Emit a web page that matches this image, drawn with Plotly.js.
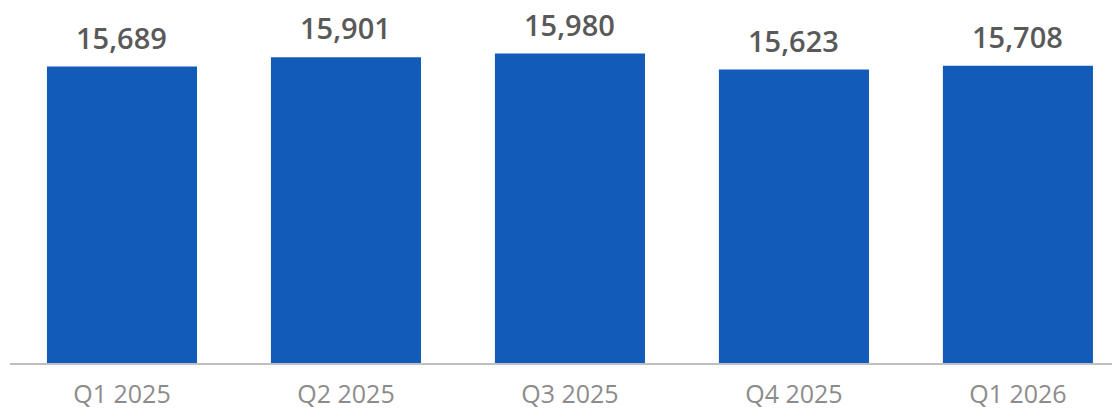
<!DOCTYPE html>
<html>
<head>
<meta charset="utf-8">
<script src="https://cdn.plot.ly/plotly-3.0.1.min.js"></script>
<style>html,body{margin:0;padding:0;background:#fff;}#chart{width:1112px;height:411px;}</style>
</head>
<body>
<div id="chart"></div>
<script>
const categories = ["Q1 2025", "Q2 2025", "Q3 2025", "Q4 2025", "Q1 2026"];
const values = [15689, 15901, 15980, 15623, 15708];
const labels = ["15,689", "15,901", "15,980", "15,623", "15,708"];

const trace = {
  type: "bar",
  x: categories,
  y: values,
  marker: {color: "#125BB8"},
  hoverinfo: "skip"
};

const annotations = categories.map((c, i) => ({
  x: c,
  y: values[i],
  xref: "x",
  yref: "y",
  text: labels[i],
  showarrow: false,
  yanchor: "bottom",
  yshift: 8,
  font: {family: "Open Sans", size: 29, color: "#595959", weight: 600}
}));

const layout = {
  width: 1112,
  height: 411,
  margin: {l: 10, r: 0, t: 0, b: 48},
  paper_bgcolor: "#ffffff",
  plot_bgcolor: "#ffffff",
  showlegend: false,
  bargap: 0.33,
  annotations: annotations,
  xaxis: {
    type: "category",
    range: [-0.5, 4.42],
    showline: true,
    linecolor: "#bfbfbf",
    linewidth: 1.5,
    ticks: "",
    showgrid: false,
    zeroline: false,
    tickfont: {family: "Open Sans", size: 25, color: "#8c8c8c"},
    ticklabelstandoff: 8
  },
  yaxis: {
    range: [9050, 17181],
    visible: false,
    showgrid: false,
    zeroline: false
  }
};

Plotly.newPlot("chart", [trace], layout, {staticPlot: true, displayModeBar: false});
</script>
</body>
</html>
